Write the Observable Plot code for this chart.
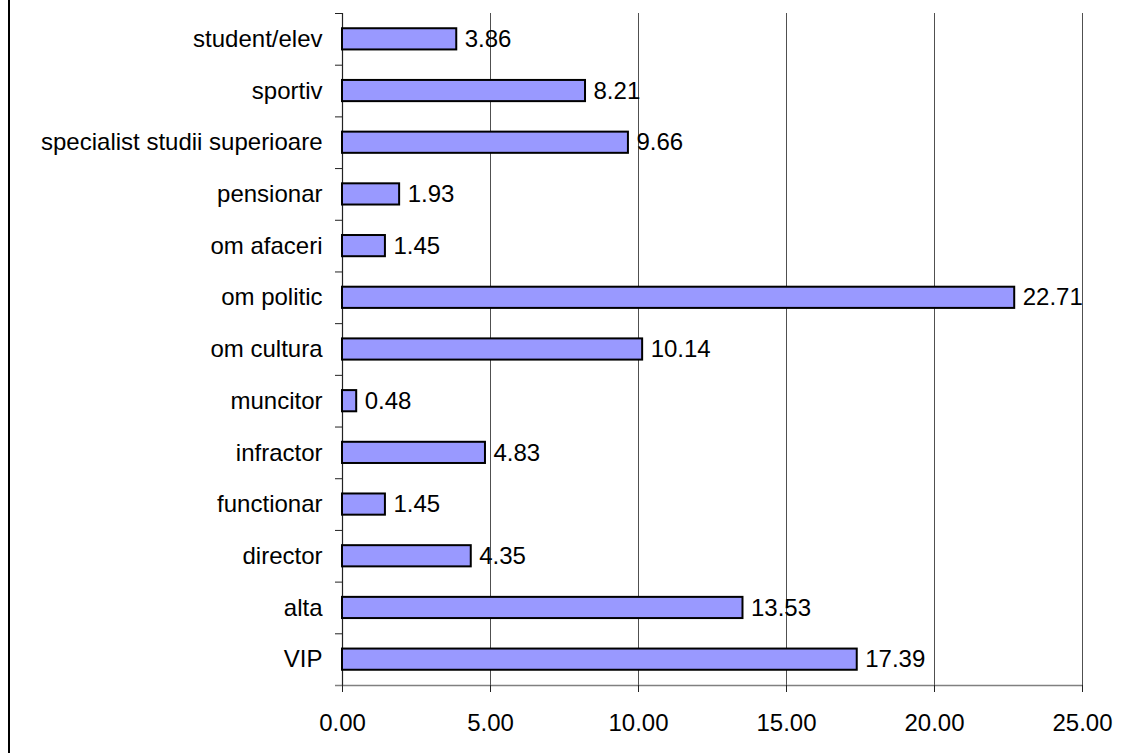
<!DOCTYPE html>
<html><head><meta charset="utf-8">
<script src="https://cdn.jsdelivr.net/npm/d3@7"></script>
<script src="https://cdn.jsdelivr.net/npm/@observablehq/plot@0.6"></script>
<style>
body{margin:0;background:#fff}
#wrap{position:relative;width:1126px;height:753px;overflow:hidden}
#frameLine{position:absolute;left:8px;top:0;width:2px;height:753px;background:#000}
#chart{position:absolute;left:0;top:0}
</style>
</head><body>
<div id="wrap"><div id="chart"></div><div id="frameLine"></div></div>
<script>
const categories = ["student/elev","sportiv","specialist studii superioare","pensionar","om afaceri","om politic","om cultura","muncitor","infractor","functionar","director","alta","VIP"];
const values = [3.86, 8.21, 9.66, 1.93, 1.45, 22.71, 10.14, 0.48, 4.83, 1.45, 4.35, 13.53, 17.39];
const xTicks = [0, 5, 10, 15, 20, 25];

const data = categories.map((c, i) => ({category: c, value: values[i]}));
const W = 1126, H = 753, mT = 13, mB = 68, mL = 342, mR = 44;
const band = (H - mT - mB) / categories.length;
const tickLen = 7;
const unit = (W - mL - mR) / (xTicks[xTicks.length - 1] - xTicks[0]);
const font = "'Liberation Sans', Arial, sans-serif";
const gridColor = "#505050";
const baseColor = "#808080";
const tickColor = "#222";

const chart = Plot.plot({
  width: W, height: H,
  marginTop: mT, marginBottom: mB, marginLeft: mL, marginRight: mR,
  style: {fontFamily: font, fontSize: "24px", background: "#fff", color: "#000", overflow: "visible"},
  x: {domain: [xTicks[0], xTicks[xTicks.length - 1]]},
  y: {domain: categories, paddingInner: 0.59, paddingOuter: 0.295, align: 0.5, round: false},
  marks: [
    Plot.ruleX(xTicks.slice(1), {stroke: gridColor, strokeWidth: 1}),
    Plot.ruleY([categories[categories.length - 1]], {x1: -tickLen / unit, x2: xTicks[xTicks.length - 1], dy: band / 2, stroke: baseColor, strokeWidth: 1.5}),
    Plot.ruleX([0], {stroke: tickColor, strokeWidth: 1.2}),
    Plot.ruleY(categories, {x1: -tickLen / unit, x2: 0, dy: -band / 2, stroke: tickColor}),
    Plot.axisX({ticks: xTicks, tickFormat: d => d.toFixed(2), tickSize: tickLen, tickPadding: 21, label: null, stroke: tickColor, fill: "#000", fontSize: 24}),
    Plot.axisY({tickSize: 0, tickPadding: 20, label: null, fill: "#000", fontSize: 24}),
    Plot.barX(data, {x: "value", y: "category", fill: "#9999FF", stroke: "#000", strokeWidth: 2}),
    Plot.text(data, {x: "value", y: "category", text: d => d.value.toFixed(2), textAnchor: "start", dx: 8, fontSize: 24, fill: "#000"})
  ]
});
document.getElementById("chart").appendChild(chart);
</script>
</body></html>
